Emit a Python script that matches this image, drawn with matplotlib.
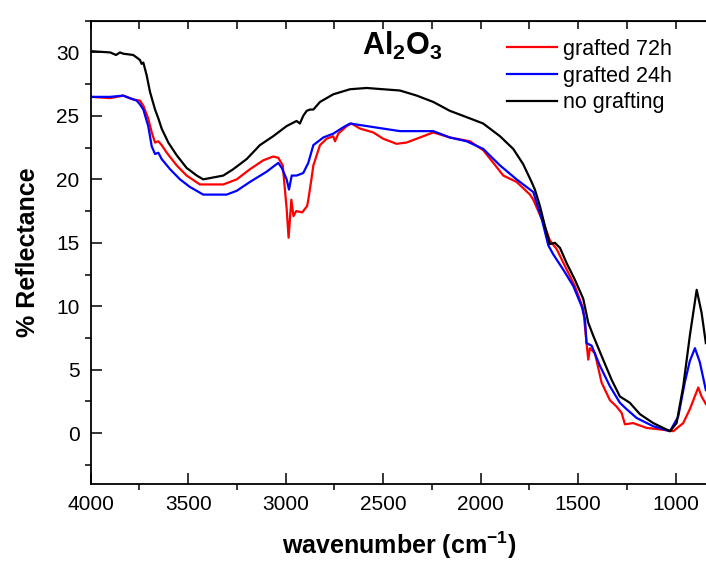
import numpy as np
import matplotlib.pyplot as plt
from matplotlib.ticker import MultipleLocator

plt.rcParams['font.family'] = ['Liberation Sans', 'DejaVu Sans']
plt.rcParams['mathtext.fontset'] = 'custom'
plt.rcParams['mathtext.rm'] = 'Liberation Sans'
plt.rcParams['mathtext.bf'] = 'Liberation Sans:bold'
plt.rcParams['mathtext.default'] = 'regular'

# no grafting
wn_ref = [4000, 3900, 3870, 3850, 3833, 3782, 3764, 3747, 3739, 3730, 3713, 3696, 3670,
          3653, 3636, 3602, 3559, 3508, 3456, 3423, 3354, 3320, 3269, 3200, 3132, 3064,
          2995, 2944, 2927, 2910, 2892, 2875, 2858, 2824, 2756, 2670, 2585, 2500, 2414,
          2328, 2243, 2158, 2072, 1987, 1901, 1833, 1782, 1739, 1722, 1696, 1670, 1645,
          1619, 1593, 1559, 1517, 1474, 1448, 1423, 1372, 1328, 1286, 1235, 1183, 1115,
          1029, 995, 961, 927, 892, 867, 845]
r_ref = [30.1, 30.0, 29.8, 30.0, 29.9, 29.8, 29.6, 29.4, 29.1, 29.2, 28.2, 26.9, 25.5,
         24.8, 24.0, 22.9, 21.9, 20.9, 20.3, 20.0, 20.2, 20.3, 20.8, 21.6, 22.7, 23.4,
         24.2, 24.6, 24.4, 25.0, 25.4, 25.5, 25.5, 26.1, 26.7, 27.1, 27.2, 27.1, 27.0,
         26.6, 26.1, 25.4, 24.9, 24.4, 23.4, 22.4, 21.2, 19.8, 19.2, 17.9, 16.3, 14.9,
         15.0, 14.6, 13.4, 12.1, 10.6, 8.7, 7.7, 5.8, 4.2, 2.9, 2.4, 1.5, 0.8,
         0.16, 0.8, 3.7, 7.7, 11.3, 9.5, 7.1]

# grafted 24h
wn_24 = [4000, 3900, 3833, 3800, 3764, 3747, 3730, 3705, 3687, 3670, 3653, 3636, 3593,
         3542, 3491, 3423, 3303, 3251, 3183, 3098, 3038, 3020, 2995, 2983, 2969, 2944,
         2910, 2884, 2858, 2807, 2756, 2705, 2670, 2585, 2500, 2414, 2243, 2158, 2072,
         1987, 1901, 1816, 1730, 1687, 1653, 1628, 1577, 1525, 1482, 1465, 1457, 1431,
         1388, 1337, 1286, 1252, 1200, 1115, 1029, 987, 953, 927, 901, 876, 845]
r_24 = [26.5, 26.5, 26.6, 26.4, 26.2, 25.9, 25.5, 24.2, 22.6, 22.0, 22.1, 21.6, 20.8,
        20.0, 19.4, 18.8, 18.8, 19.1, 19.8, 20.6, 21.3, 20.9, 20.0, 19.2, 20.3, 20.3,
        20.5, 21.3, 22.7, 23.3, 23.6, 24.1, 24.4, 24.2, 24.0, 23.8, 23.8, 23.3, 23.0,
        22.4, 21.1, 20.0, 19.0, 16.9, 14.8, 14.1, 12.9, 11.6, 10.0, 9.0, 7.1, 6.9,
        5.3, 3.7, 2.4, 1.9, 1.2, 0.55, 0.16, 1.3, 4.0, 5.7, 6.7, 5.6, 3.4]

# grafted 72h
wn_72 = [4000, 3900, 3833, 3782, 3747, 3730, 3705, 3687, 3670, 3653, 3636, 3610, 3559,
         3508, 3440, 3320, 3251, 3183, 3115, 3064, 3038, 3015, 3004, 2995, 2985, 2971,
         2960, 2946, 2915, 2890, 2884, 2870, 2858, 2824, 2790, 2756, 2747, 2730, 2687,
         2662, 2619, 2551, 2500, 2431, 2380, 2294, 2243, 2158, 2055, 1987, 1935, 1884,
         1816, 1747, 1730, 1679, 1645, 1610, 1559, 1517, 1474, 1457, 1448, 1440, 1414,
         1380, 1337, 1303, 1277, 1260, 1218, 1149, 1081, 1012, 961, 927, 884, 867, 845]
r_72 = [26.5, 26.4, 26.6, 26.3, 26.2, 25.8, 24.8, 23.7, 22.9, 23.0, 22.7, 22.1, 21.1,
        20.3, 19.6, 19.6, 20.0, 20.8, 21.5, 21.8, 21.7, 21.1, 19.2, 17.7, 15.4, 18.4,
        17.1, 17.5, 17.4, 17.9, 18.4, 19.8, 21.1, 22.7, 23.2, 23.4, 23.0, 23.6, 24.2,
        24.4, 24.0, 23.7, 23.2, 22.8, 22.9, 23.4, 23.7, 23.3, 23.0, 22.3, 21.3, 20.3,
        19.8, 18.8, 18.4, 16.6, 15.2, 14.5, 12.9, 11.6, 9.8, 7.1, 5.8, 6.7, 6.3,
        4.0, 2.6, 2.1, 1.6, 0.7, 0.8, 0.42, 0.3, 0.16, 0.8, 1.9, 3.6, 2.9, 2.3]

fig = plt.figure(figsize=(7.06, 5.63), dpi=100)
ax = fig.add_axes([90.7 / 706, 1 - 484 / 563, (708 - 90.7) / 706, (484 - 20.7) / 563])

ax.plot(wn_72, r_72, color='#ff0000', lw=1.6, label='grafted 72h')
ax.plot(wn_24, r_24, color='#0000ff', lw=1.6, label='grafted 24h')
ax.plot(wn_ref, r_ref, color='black', lw=1.6, label='no grafting')

ax.set_xlim(4000, 834)
ax.set_ylim(-4, 32.5)
ax.xaxis.set_major_locator(MultipleLocator(500))
ax.xaxis.set_minor_locator(MultipleLocator(250))
ax.yaxis.set_major_locator(MultipleLocator(5))
ax.yaxis.set_minor_locator(MultipleLocator(2.5))
ax.set_yticks([0, 5, 10, 15, 20, 25, 30])
ax.tick_params(which='major', direction='in', length=8, width=1.1, labelsize=15, pad=8)
ax.tick_params(which='minor', direction='out', length=4, width=1.1)
for s in ax.spines.values():
    s.set_linewidth(1.3)

top = ax.secondary_xaxis('top')
top.set_xticks(np.arange(4000, 800, -250))
top.tick_params(direction='in', length=6, width=1.1, labeltop=False)
top.xaxis.set_minor_locator(MultipleLocator(10000))

ax.set_xlabel('wavenumber (cm$^{-1}$)', fontsize=18, fontweight='bold', labelpad=11)
ax.set_ylabel('% Reflectance', fontsize=18, fontweight='bold', labelpad=12)

ax.text(2610, 29.8, r'$\mathbf{Al_2O_3}$', fontsize=22, ha='left', va='baseline')

ax.legend(loc='upper left', bbox_to_anchor=(507 / 706, 1 - 39 / 563),
          bbox_transform=fig.transFigure, frameon=False, fontsize=15.5,
          handlelength=2.3, handletextpad=0.3, labelspacing=0.26,
          borderpad=0, borderaxespad=0)

fig.savefig('out.png', dpi=100)
